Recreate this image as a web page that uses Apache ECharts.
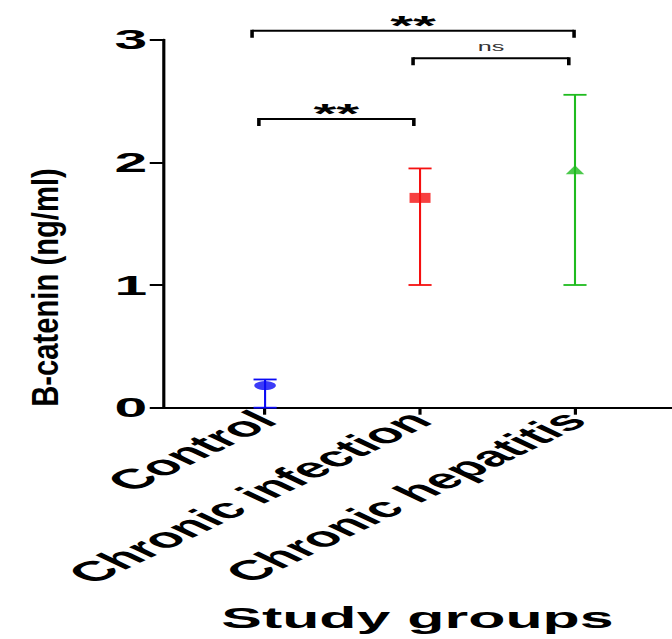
<!DOCTYPE html>
<html><head><meta charset="utf-8">
<script src="https://cdn.jsdelivr.net/npm/echarts@6/dist/echarts.min.js"></script>
<style>
html,body{margin:0;padding:0;background:#fff;overflow:hidden;}
#wrap{width:672px;height:639px;overflow:hidden;position:relative;}
#c{width:320px;height:639px;transform:scaleX(2.1);transform-origin:0 0;}
</style></head><body><div id="wrap"><div id="c"></div></div>
<script>
// ---- data ----
const categories = ['Control', 'Chronic infection', 'Chronic hepatitis'];
const groupPos = [1, 2, 3];
const means = [0.18, 1.71, 1.94];
const lowerVals = [0.0, 1.0, 1.0];
const upperVals = [0.23, 1.95, 2.55];
const yTicks = [0, 1, 2, 3];
const bracketFrom = [0.96, 1.955, 0.916];
const bracketTo = [1.96, 2.96, 2.994];
const bracketLevel = [2.353, 2.848, 3.072];
const bracketLabel = ['**', 'ns', '**'];

// ---- styles ----
const colors = ['#0a0af5', '#f51010', '#1fbb1f'];
const symbols = ['circle', 'rect', 'triangle'];
const markerSizes = [[10.3, 9], [10, 10], [8.8, 9]];
const FONT = '"Liberation Sans", Arial, Helvetica, sans-serif';

const chart = echarts.init(document.getElementById('c'), null, {renderer: 'svg'});

const errData = groupPos.map((x, i) => [x, lowerVals[i], upperVals[i], i]);
const markerData = groupPos.map((x, i) => ({
  value: [x, means[i]],
  symbol: symbols[i],
  symbolSize: markerSizes[i],
  itemStyle: {color: colors[i]}
}));
const bracketData = bracketFrom.map((x, i) => [x, bracketTo[i], bracketLevel[i], i]);

chart.setOption({
  animation: false,
  backgroundColor: '#fff',
  grid: {left: 77.6, right: 0, top: 39.6, bottom: 231.3, containLabel: false, outerBoundsMode: 'none'},
  xAxis: {
    type: 'value',
    min: 0.341, max: 3.626,
    splitLine: {show: false},
    axisLine: {show: true, onZero: false, lineStyle: {color: '#000', width: 2}},
    axisTick: {show: true, customValues: groupPos, length: 7, lineStyle: {color: '#000', width: 1.5}},
    axisLabel: {
      customValues: groupPos,
      formatter: v => categories[Math.round(v) - 1] || '',
      rotate: 45, margin: 8,
      color: '#000', fontSize: 28, fontWeight: 'bold', fontFamily: FONT
    },
    name: 'Study groups',
    nameLocation: 'middle',
    nameGap: 196,
    nameTextStyle: {color: '#000', fontSize: 29, fontWeight: 'bold', fontFamily: FONT}
  },
  yAxis: {
    type: 'value',
    min: 0, max: 3, interval: 1,
    splitLine: {show: false},
    axisLine: {show: true, lineStyle: {color: '#000', width: 1.5}},
    axisTick: {show: true, length: 6.3, lineStyle: {color: '#000', width: 2}},
    axisLabel: {
      margin: 7.5,
      formatter: v => (yTicks.indexOf(v) >= 0 ? String(v) : ''),
      color: '#000', fontSize: 28, fontWeight: 'bold', fontFamily: FONT
    }
  },
  graphic: [{
    type: 'text',
    x: 21.4, y: 287.5,
    rotation: Math.PI / 2,
    scaleX: 1.67,
    style: {
      text: 'B-catenin (ng/ml)',
      font: 'bold 17.5px ' + FONT,
      fill: '#000',
      align: 'center',
      verticalAlign: 'middle'
    }
  }],
  series: [
    {
      type: 'custom',
      z: 3,
      data: errData,
      renderItem: function (params, api) {
        const i = api.value(3);
        const x = api.value(0);
        const lo = api.coord([x, api.value(1)]);
        const hi = api.coord([x, api.value(2)]);
        const c = colors[i];
        const hw = 5.5;
        return {
          type: 'group',
          children: [
            {type: 'line', shape: {x1: lo[0], y1: lo[1], x2: hi[0], y2: hi[1]}, style: {stroke: c, lineWidth: 1}},
            {type: 'line', shape: {x1: hi[0] - hw, y1: hi[1], x2: hi[0] + hw, y2: hi[1]}, style: {stroke: c, lineWidth: 1.8}},
            {type: 'line', shape: {x1: lo[0] - hw, y1: lo[1], x2: lo[0] + hw, y2: lo[1]}, style: {stroke: c, lineWidth: 1.8}}
          ]
        };
      }
    },
    {
      type: 'scatter',
      z: 4,
      data: markerData
    },
    {
      type: 'custom',
      z: 3,
      data: bracketData,
      renderItem: function (params, api) {
        const i = api.value(3);
        const yv = api.value(2);
        const p1 = api.coord([api.value(0), yv]);
        const p2 = api.coord([api.value(1), yv]);
        const drop = 7;
        const lab = bracketLabel[i];
        const isStar = lab === '**';
        return {
          type: 'group',
          children: [
            {type: 'line', shape: {x1: p1[0], y1: p1[1], x2: p2[0], y2: p2[1]}, style: {stroke: '#000', lineWidth: 2}},
            {type: 'line', shape: {x1: p1[0], y1: p1[1] - 1, x2: p1[0], y2: p1[1] + drop}, style: {stroke: '#000', lineWidth: 1.7}},
            {type: 'line', shape: {x1: p2[0], y1: p2[1] - 1, x2: p2[0], y2: p2[1] + drop}, style: {stroke: '#000', lineWidth: 1.7}},
            {
              type: 'text',
              x: (p1[0] + p2[0]) / 2,
              y: p1[1] - (isStar ? 5.3 : 11.6),
              style: {
                text: lab,
                font: (isStar ? 'bold 28px ' : '12px ') + FONT,
                fill: isStar ? '#000' : '#333',
                align: 'center',
                verticalAlign: 'middle'
              }
            }
          ]
        };
      }
    }
  ]
});
</script></body></html>
